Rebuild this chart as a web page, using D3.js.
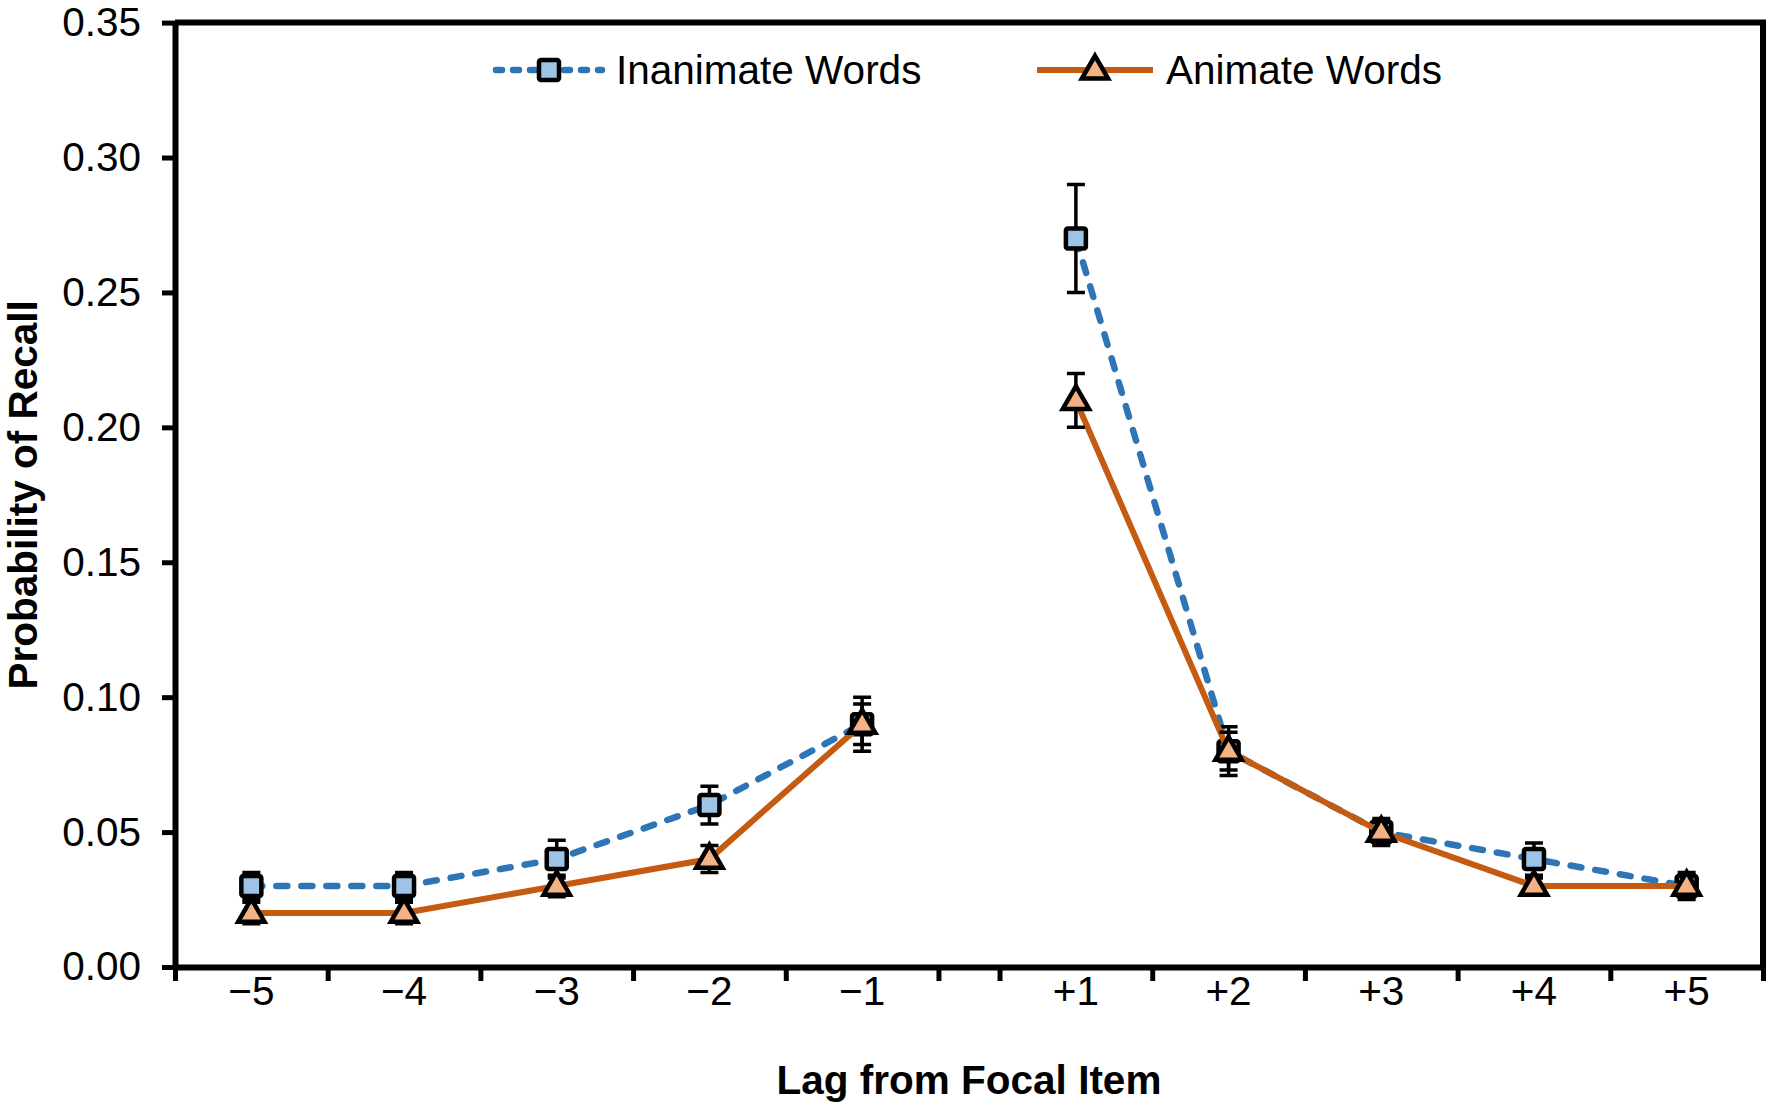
<!DOCTYPE html>
<html>
<head>
<meta charset="utf-8">
<script src="https://cdn.jsdelivr.net/npm/d3@7"></script>
<style>
  body { margin: 0; background: #fff; }
  text { font-family: "Liberation Sans", Arial, sans-serif; fill: #000; }
</style>
</head>
<body>
<div id="chart"></div>
<script>
const lags = ["\u22125", "\u22124", "\u22123", "\u22122", "\u22121", "+1", "+2", "+3", "+4", "+5"];
const inanimate = [0.03, 0.03, 0.04, 0.06, 0.09, 0.27, 0.08, 0.05, 0.04, 0.03];
const inanimateErr = [0.005, 0.005, 0.007, 0.007, 0.01, 0.02, 0.009, 0.005, 0.006, 0.005];
const animate = [0.02, 0.02, 0.03, 0.04, 0.09, 0.21, 0.08, 0.05, 0.03, 0.03];
const animateErr = [0.004, 0.004, 0.004, 0.005, 0.0075, 0.01, 0.007, 0.004, 0.003, 0.004];
const yTicks = [0, 0.05, 0.10, 0.15, 0.20, 0.25, 0.30, 0.35];
// lines are not joined across the focal item
const segments = [[0, 1, 2, 3, 4], [5, 6, 7, 8, 9]];

const W = 1772, H = 1107;
const plotLeft = 175, plotRight = 1763, plotTop = 22.6, plotBottom = 967;
const fontSize = "40.5px";

// -5..-1 and +1..+5 are separated by a narrow gap on the axis
const slot = i => (i < 5 ? i : i + 0.4);

const x = d3.scaleLinear().domain([-0.5, 9.9]).range([plotLeft, plotRight]);
const y = d3.scaleLinear().domain([0, 0.35]).range([plotBottom, plotTop]);

const svg = d3.select("#chart").append("svg")
    .attr("width", W)
    .attr("height", H);

// y axis
const yAxis = svg.append("g")
    .attr("transform", "translate(" + plotLeft + ",0)")
    .call(d3.axisLeft(y).tickValues(yTicks).tickFormat(d3.format(".2f")).tickSize(13).tickSizeOuter(0));
yAxis.select(".domain").attr("stroke-width", 6);
yAxis.selectAll(".tick line").attr("stroke-width", 5);
yAxis.selectAll(".tick text")
    .attr("x", -34)
    .style("font-size", fontSize)
    .style("font-family", "'Liberation Sans', Arial, sans-serif");

// x axis: tick marks at category boundaries
const bounds = Array.from(new Set(lags.flatMap((d, i) => [slot(i) - 0.5, slot(i) + 0.5])));
const xAxis = svg.append("g")
    .attr("transform", "translate(0," + plotBottom + ")")
    .call(d3.axisBottom(x).tickValues(bounds).tickFormat("").tickSize(14).tickSizeOuter(0));
xAxis.select(".domain").attr("stroke-width", 6);
xAxis.selectAll(".tick line").attr("stroke-width", 5);

svg.append("g").selectAll("text")
    .data(lags)
    .enter().append("text")
    .attr("x", (d, i) => x(slot(i)))
    .attr("y", plotBottom + 38)
    .attr("text-anchor", "middle")
    .style("font-size", fontSize)
    .text(d => d);

// frame top and right
svg.append("path")
    .attr("d", "M" + plotLeft + "," + plotTop + "H" + plotRight + "V" + plotBottom)
    .attr("fill", "none")
    .attr("stroke", "#000")
    .attr("stroke-width", 6);

// axis titles
svg.append("text")
    .attr("x", (plotLeft + plotRight) / 2)
    .attr("y", 1094)
    .attr("text-anchor", "middle")
    .style("font-size", fontSize)
    .style("font-weight", "bold")
    .text("Lag from Focal Item");

svg.append("text")
    .attr("transform", "rotate(-90)")
    .attr("x", -(plotTop + plotBottom) / 2)
    .attr("y", 37)
    .attr("text-anchor", "middle")
    .style("font-size", fontSize)
    .style("font-weight", "bold")
    .text("Probability of Recall");

const series = [
    { name: "Inanimate Words", values: inanimate, err: inanimateErr, stroke: "#2e75b6", fill: "#9dc3e6", dash: "11,14", shape: "square" },
    { name: "Animate Words", values: animate, err: animateErr, stroke: "#c55a11", fill: "#f4b183", dash: null, shape: "triangle" }
];

const tri = d3.symbol().type(d3.symbolTriangle).size(300);

function marker(g, s, cx, cy) {
    if (s.shape === "square") {
        g.append("rect")
            .attr("x", cx - 10).attr("y", cy - 10)
            .attr("width", 20).attr("height", 20)
            .attr("rx", 2)
            .attr("fill", s.fill)
            .attr("stroke", "#000")
            .attr("stroke-width", 4.5);
    } else {
        g.append("path")
            .attr("d", tri())
            .attr("transform", "translate(" + cx + "," + (cy + 1) + ")")
            .attr("fill", s.fill)
            .attr("stroke", "#000")
            .attr("stroke-width", 4.5)
            .attr("stroke-linejoin", "miter");
    }
}

series.forEach(s => {
    const g = svg.append("g");
    const line = d3.line()
        .x(i => x(slot(i)))
        .y(i => y(s.values[i]));

    segments.forEach(seg => {
        g.append("path")
            .datum(seg)
            .attr("d", line)
            .attr("fill", "none")
            .attr("stroke", s.stroke)
            .attr("stroke-width", s.dash ? 6.5 : 6)
            .attr("stroke-linecap", s.dash ? "round" : "butt")
            .attr("stroke-dasharray", s.dash);
    });

    // error bars
    s.values.forEach((v, i) => {
        const cx = x(slot(i));
        const y1 = y(v + s.err[i]), y2 = y(v - s.err[i]);
        g.append("path")
            .attr("d", "M" + cx + "," + y1 + "V" + y2 +
                "M" + (cx - 9) + "," + y1 + "H" + (cx + 9) +
                "M" + (cx - 9) + "," + y2 + "H" + (cx + 9))
            .attr("fill", "none")
            .attr("stroke", "#000")
            .attr("stroke-width", 3.5);
    });

    s.values.forEach((v, i) => marker(g, s, x(slot(i)), y(v)));
});

// legend
const legendPos = [{ x0: 496, x1: 602, tx: 616 }, { x0: 1037, x1: 1153, tx: 1166 }];
series.forEach((s, k) => {
    const p = legendPos[k];
    const g = svg.append("g");
    g.append("line")
        .attr("x1", p.x0).attr("x2", p.x1)
        .attr("y1", 70).attr("y2", 70)
        .attr("stroke", s.stroke)
        .attr("stroke-width", s.dash ? 6.5 : 6)
        .attr("stroke-linecap", s.dash ? "round" : "butt")
        .attr("stroke-dasharray", s.dash ? "6,11" : null);
    marker(g, s, (p.x0 + p.x1) / 2, 70);
    g.append("text")
        .attr("x", p.tx)
        .attr("y", 84)
        .style("font-size", fontSize)
        .text(s.name);
});
</script>
</body>
</html>
